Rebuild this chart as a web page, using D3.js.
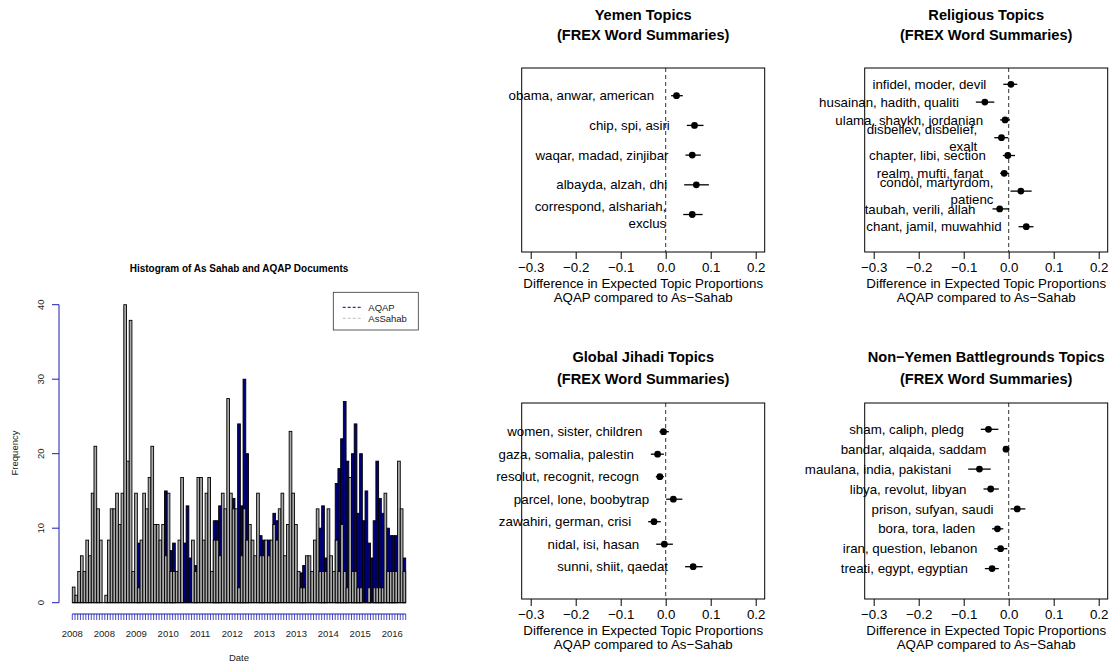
<!DOCTYPE html>
<html>
<head>
<meta charset="utf-8">
<script src="https://cdnjs.cloudflare.com/ajax/libs/d3/7.8.5/d3.min.js"></script>
<style>
  body { margin: 0; background: #fff; }
  svg { display: block; font-family: "Liberation Sans", Arial, sans-serif; }
</style>
</head>
<body>
<div id="chart"></div>
<script>
// histogram counts per bin
var asSahab = [2.1,1,4.2,6.3,4.2,8.4,6.3,14.7,21,12.6,8.4,0,1,8.4,12.6,12.6,14.7,10.5,14.7,40,19,37.9,4.2,14.7,2,8.4,14.7,12.6,16.8,21,10.5,10.5,8.4,10.5,6.3,14.7,4.2,4.2,4.2,8.4,16.8,0,0,0,8.4,4.2,16.8,16.8,8.4,14.7,16.8,4.2,8.4,8.4,6.3,14.7,12.6,27.4,14.7,12.6,12.6,2,6.3,12.6,8.4,10.5,8.4,6.3,14.7,6.3,6.3,8.4,6.3,8.4,10.5,8.4,12.6,14.7,6.3,10.5,23,14.7,10.5,4.2,2,2,6.3,6.3,4.2,8.4,12.6,4.2,4.2,4.2,12.6,6.3,4.2,8.4,4.2,10.5,4.2,2,16.8,4.2,4.2,2,2,0,0,2,0,2,2,2,2,14.7,4.2,4.2,4.2,4.2,19,12.6,4.2];
var aqap = [0,0,0,0,0,0,0,0,0,0,0,0,0,0,0,0,0,0,0,0,0,0,0,0,8,0,0,0,0,0,0,0,0,0,15,0,7,8,0,0,0,8,13,6,0,5,0,0,0,0,0,0,11,11,13,0,0,0,0,14,0,24,13,30,20,0,0,0,0,9,8.4,0,8.4,0,12,11,0,0,0,0,0,0,0,0,4,5,0,0,0,0,0,10,13,6,0,0,0,16,18,22,27,19,0,20,24,12,20,11,15,8,6,11,19,14,12,0,10,9,9,9,0,0,6];
var histStart = new Date(2008, 0, 1);
var histEnd = new Date(2016, 8, 6);
var dateLabels = ["2008","2008","2009","2010","2011","2012","2013","2013","2014","2015","2016"];
var freqTicks = [0, 10, 20, 30, 40];
var seriesNames = ["AQAP", "AsSahab"];

var yemenLabels = ["obama, anwar, american", "chip, spi, asiri", "waqar, madad, zinjibar", "albayda, alzah, dhi", "correspond, alshariah,\nexclus"];
var yemenEst = [0.024, 0.064, 0.059, 0.068, 0.059];
var yemenLow = [0.012, 0.047, 0.044, 0.041, 0.039];
var yemenHigh = [0.038, 0.084, 0.078, 0.096, 0.082];

var religiousLabels = ["infidel, moder, devil", "husainan, hadith, qualiti", "ulama, shaykh, jordanian", "disbeliev, disbelief,\nexalt", "chapter, libi, section", "realm, mufti, fanat", "condol, martyrdom,\npatienc", "taubah, verili, allah", "chant, jamil, muwahhid"];
var religiousEst = [0.005, -0.053, -0.008, -0.016, -0.002, -0.010, 0.027, -0.020, 0.039];
var religiousLow = [-0.012, -0.073, -0.019, -0.032, -0.013, -0.019, 0.004, -0.036, 0.022];
var religiousHigh = [0.019, -0.032, 0.003, -0.001, 0.014, 0.000, 0.051, 0.001, 0.055];

var globalLabels = ["women, sister, children", "gaza, somalia, palestin", "resolut, recognit, recogn", "parcel, lone, boobytrap", "zawahiri, german, crisi", "nidal, isi, hasan", "sunni, shiit, qaedat"];
var globalEst = [-0.005, -0.018, -0.013, 0.017, -0.026, -0.003, 0.061];
var globalLow = [-0.014, -0.033, -0.022, 0.001, -0.039, -0.021, 0.043];
var globalHigh = [0.007, -0.004, -0.004, 0.037, -0.011, 0.016, 0.082];

var nonYemenLabels = ["sham, caliph, pledg", "bandar, alqaida, saddam", "maulana, india, pakistani", "libya, revolut, libyan", "prison, sufyan, saudi", "bora, tora, laden", "iran, question, lebanon", "treati, egypt, egyptian"];
var nonYemenEst = [-0.045, -0.006, -0.065, -0.040, 0.019, -0.025, -0.018, -0.037];
var nonYemenLow = [-0.062, -0.012, -0.090, -0.056, 0.004, -0.037, -0.032, -0.053];
var nonYemenHigh = [-0.023, 0.001, -0.040, -0.022, 0.037, -0.012, -0.003, -0.022];

var diffTicks = [-0.3, -0.2, -0.1, 0.0, 0.1, 0.2];

var W = 1118, H = 663;
var svg = d3.select("#chart").append("svg").attr("width", W).attr("height", H);
var axisBlue = "#1c1cb0";

// ---------- histogram ----------
var xh = d3.scaleTime().domain([histStart, histEnd]).range([72.3, 405.7]);
var yh = d3.scaleLinear().domain([0, 40]).range([602.7, 304.7]);
var nb = asSahab.length;
var xb = d3.scaleLinear().domain([0, nb]).range(xh.range());

var hg = svg.append("g");
function bars(vals, fill) {
  vals.forEach(function(d, i) {
    if (d <= 0) return;
    hg.append("rect")
      .attr("x", xb(i)).attr("width", xb(i + 1) - xb(i))
      .attr("y", yh(d)).attr("height", yh(0) - yh(d))
      .attr("fill", fill).attr("stroke", "#000").attr("stroke-width", 0.9);
  });
}
bars(aqap, "#000080");
bars(asSahab, "#a9a9a9");
hg.append("line").attr("x1", xb(0)).attr("x2", xb(nb)).attr("y1", yh(0)).attr("y2", yh(0))
  .attr("stroke", "#000").attr("stroke-width", 1);

// y axis
hg.append("line").attr("x1", 59).attr("x2", 59).attr("y1", yh(0)).attr("y2", yh(40))
  .attr("stroke", axisBlue).attr("stroke-width", 1);
freqTicks.forEach(function(t) {
  hg.append("line").attr("x1", 52).attr("x2", 59).attr("y1", yh(t)).attr("y2", yh(t))
    .attr("stroke", axisBlue);
  hg.append("text").attr("transform", "translate(41," + yh(t) + ") rotate(-90)")
    .attr("text-anchor", "middle").attr("dy", "0.35em")
    .attr("font-size", "9.5px").attr("fill", "#222").text(t);
});
hg.append("text").attr("transform", "translate(15,453) rotate(-90)")
  .attr("text-anchor", "middle").attr("dy", "0.35em")
  .attr("font-size", "9.5px").attr("fill", "#222").text("Frequency");

// x axis
hg.append("line").attr("x1", xb(0)).attr("x2", xb(nb)).attr("y1", 614).attr("y2", 614)
  .attr("stroke", axisBlue);
for (var b = 0; b <= nb; b++) {
  hg.append("line").attr("x1", xb(b)).attr("x2", xb(b)).attr("y1", 614).attr("y2", 620)
    .attr("stroke", axisBlue).attr("stroke-width", 0.8);
}
dateLabels.forEach(function(lab, k) {
  hg.append("text").attr("x", xh(d3.timeMonth.offset(histStart, 10 * k))).attr("y", 637)
    .attr("text-anchor", "middle").attr("font-size", "9.5px").attr("fill", "#222").text(lab);
});
hg.append("text").attr("x", 239).attr("y", 661).attr("text-anchor", "middle")
  .attr("font-size", "9.5px").attr("fill", "#222").text("Date");
hg.append("text").attr("x", 239).attr("y", 272).attr("text-anchor", "middle")
  .attr("font-size", "10px").attr("font-weight", "bold").text("Histogram of As Sahab and AQAP Documents");

// legend
var lg = hg.append("g");
lg.append("rect").attr("x", 333.3).attr("y", 292.3).attr("width", 85).attr("height", 37.7)
  .attr("fill", "#fff").attr("stroke", "#333").attr("stroke-width", 0.8);
[["#000080", 307.3], ["#bebebe", 318.3]].forEach(function(e, k) {
  lg.append("line").attr("x1", 342.7).attr("x2", 361.7).attr("y1", e[1]).attr("y2", e[1])
    .attr("stroke", e[0]).attr("stroke-width", 1).attr("stroke-dasharray", "3,2");
  lg.append("text").attr("x", 368.3).attr("y", e[1]).attr("dy", "0.35em")
    .attr("font-size", "9.5px").attr("fill", "#222").text(seriesNames[k]);
});

// ---------- difference panels ----------
var panels = [
  {t1: "Yemen Topics", labels: yemenLabels, est: yemenEst, low: yemenLow, high: yemenHigh,
   x0: 521.7, x1: 764.7, y0: 68, y1: 252, ydom: [0.067, 6.262], tY: [20, 40]},
  {t1: "Religious Topics", labels: religiousLabels, est: religiousEst, low: religiousLow, high: religiousHigh,
   x0: 864.7, x1: 1107.7, y0: 68, y1: 252, ydom: [0.084, 10.42], tY: [20, 40]},
  {t1: "Global Jihadi Topics", labels: globalLabels, est: globalEst, low: globalLow, high: globalHigh,
   x0: 521.7, x1: 764.7, y0: 403, y1: 599, ydom: [-0.276, 8.435], tY: [362, 384]},
  {t1: "Non\u2212Yemen Battlegrounds Topics", labels: nonYemenLabels, est: nonYemenEst, low: nonYemenLow, high: nonYemenHigh,
   x0: 864.7, x1: 1107.7, y0: 403, y1: 599, ydom: [-0.322, 9.527], tY: [362, 384]}
];

panels.forEach(function(p) {
  var g = svg.append("g");
  var x = d3.scaleLinear().domain([-0.32, 0.22]).range([p.x0, p.x1]);
  var y = d3.scaleLinear().domain(p.ydom).range([p.y0, p.y1]);
  var cx = (p.x0 + p.x1) / 2;

  g.append("text").attr("x", cx).attr("y", p.tY[0]).attr("text-anchor", "middle")
    .attr("font-size", "14.6px").attr("font-weight", "bold").text(p.t1);
  g.append("text").attr("x", cx).attr("y", p.tY[1]).attr("text-anchor", "middle")
    .attr("font-size", "14.6px").attr("font-weight", "bold").text("(FREX Word Summaries)");

  g.append("line").attr("x1", x(0)).attr("x2", x(0)).attr("y1", p.y0).attr("y2", p.y1)
    .attr("stroke", "#333").attr("stroke-dasharray", "4,3");

  var axis = d3.axisBottom(x).tickValues(diffTicks).tickSize(7).tickSizeOuter(0).tickPadding(4)
    .tickFormat(d3.format(".1f"));
  var ax = g.append("g").attr("transform", "translate(0," + p.y1 + ")").call(axis);
  ax.select(".domain").remove();
  ax.selectAll("text").attr("font-size", "13.3px").attr("font-family", "Liberation Sans, Arial, sans-serif").attr("fill", "#000");
  ax.selectAll("line").attr("stroke", "#000");

  g.append("text").attr("x", cx).attr("y", p.y1 + 35.5).attr("text-anchor", "middle")
    .attr("font-size", "13.3px").text("Difference in Expected Topic Proportions");
  g.append("text").attr("x", cx).attr("y", p.y1 + 49.5).attr("text-anchor", "middle")
    .attr("font-size", "13.3px").text("AQAP compared to As\u2212Sahab");

  p.est.forEach(function(v, i) {
    var yy = y(i + 1);
    g.append("line").attr("x1", x(p.low[i])).attr("x2", x(p.high[i])).attr("y1", yy).attr("y2", yy)
      .attr("stroke", "#000").attr("stroke-width", 1.3);
    g.append("circle").attr("cx", x(v)).attr("cy", yy).attr("r", 3.4).attr("fill", "#000");
    var lines = p.labels[i].split("\n");
    lines.forEach(function(s, j) {
      g.append("text").attr("x", x(p.low[i]) - 17)
        .attr("y", yy + (j - (lines.length - 1) / 2) * 16.8).attr("dy", "0.35em")
        .attr("text-anchor", "end").attr("font-size", "13.3px").text(s);
    });
  });

  g.append("rect").attr("x", p.x0).attr("y", p.y0).attr("width", p.x1 - p.x0).attr("height", p.y1 - p.y0)
    .attr("fill", "none").attr("stroke", "#000").attr("stroke-width", 1);
});
</script>
</body>
</html>
